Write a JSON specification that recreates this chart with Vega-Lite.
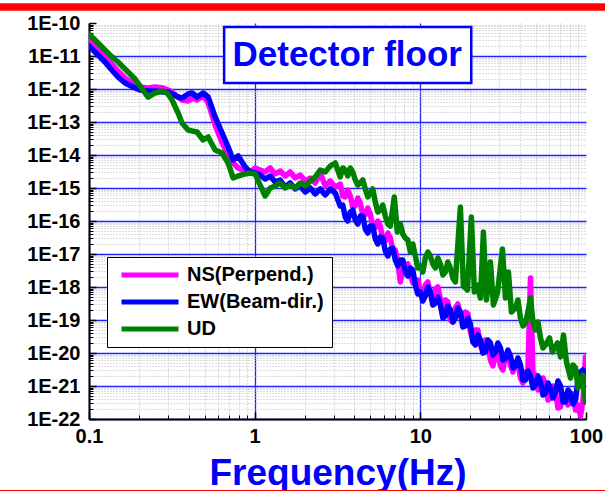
{
  "$schema": "https://vega.github.io/schema/vega-lite/v6.json",
  "width": 497,
  "height": 396,
  "autosize": "none",
  "padding": {"left": 89, "top": 23, "right": 19, "bottom": 72},
  "background": "white",
  "config": {"view": {"stroke": null}, "font": "Liberation Sans"},
  "datasets": {
    "spectra": [
      {"f":0.1,"s":"NS(Perpend.)","v":3.05e-11},{"f":0.1072,"s":"NS(Perpend.)","v":2.15e-11},{"f":0.1165,"s":"NS(Perpend.)","v":1.42e-11},{"f":0.1249,"s":"NS(Perpend.)","v":9.33e-12},{"f":0.1339,"s":"NS(Perpend.)","v":6.58e-12},{"f":0.1497,"s":"NS(Perpend.)","v":3.51e-12},{"f":0.165,"s":"NS(Perpend.)","v":2.15e-12},{"f":0.1897,"s":"NS(Perpend.)","v":1.32e-12},{"f":0.2033,"s":"NS(Perpend.)","v":1.15e-12},{"f":0.2273,"s":"NS(Perpend.)","v":1.07e-12},{"f":0.2505,"s":"NS(Perpend.)","v":1.15e-12},{"f":0.28,"s":"NS(Perpend.)","v":1.07e-12},{"f":0.3001,"s":"NS(Perpend.)","v":9.33e-13},{"f":0.3173,"s":"NS(Perpend.)","v":8.11e-13},{"f":0.345,"s":"NS(Perpend.)","v":5.72e-13},{"f":0.3647,"s":"NS(Perpend.)","v":4.64e-13},{"f":0.3964,"s":"NS(Perpend.)","v":4.33e-13},{"f":0.4193,"s":"NS(Perpend.)","v":5.34e-13},{"f":0.4494,"s":"NS(Perpend.)","v":4.64e-13},{"f":0.4885,"s":"NS(Perpend.)","v":6.14e-13},{"f":0.5237,"s":"NS(Perpend.)","v":3.77e-13},{"f":0.5772,"s":"NS(Perpend.)","v":8.11e-14},{"f":0.6364,"s":"NS(Perpend.)","v":2.31e-14},{"f":0.6917,"s":"NS(Perpend.)","v":1e-14},{"f":0.7416,"s":"NS(Perpend.)","v":5.72e-15},{"f":0.795,"s":"NS(Perpend.)","v":4.04e-15},{"f":0.8764,"s":"NS(Perpend.)","v":3.27e-15},{"f":0.9393,"s":"NS(Perpend.)","v":3.05e-15},{"f":1.007,"s":"NS(Perpend.)","v":4.04e-15},{"f":1.079,"s":"NS(Perpend.)","v":3.51e-15},{"f":1.157,"s":"NS(Perpend.)","v":3.05e-15},{"f":1.241,"s":"NS(Perpend.)","v":4.04e-15},{"f":1.33,"s":"NS(Perpend.)","v":2.66e-15},{"f":1.426,"s":"NS(Perpend.)","v":3.27e-15},{"f":1.529,"s":"NS(Perpend.)","v":2.31e-15},{"f":1.639,"s":"NS(Perpend.)","v":3.05e-15},{"f":1.757,"s":"NS(Perpend.)","v":2.01e-15},{"f":1.883,"s":"NS(Perpend.)","v":2.48e-15},{"f":2.019,"s":"NS(Perpend.)","v":1.63e-15},{"f":2.164,"s":"NS(Perpend.)","v":2.01e-15},{"f":2.321,"s":"NS(Perpend.)","v":1.42e-15},{"f":2.488,"s":"NS(Perpend.)","v":2.85e-15},{"f":2.667,"s":"NS(Perpend.)","v":1.15e-15},{"f":2.859,"s":"NS(Perpend.)","v":1.63e-15},{"f":3.065,"s":"NS(Perpend.)","v":1.07e-15},{"f":3.285,"s":"NS(Perpend.)","v":1.32e-15},{"f":3.522,"s":"NS(Perpend.)","v":5.34e-16},{"f":3.776,"s":"NS(Perpend.)","v":5.72e-16},{"f":4.049,"s":"NS(Perpend.)","v":2.85e-16},{"f":4.34,"s":"NS(Perpend.)","v":3.51e-16},{"f":4.653,"s":"NS(Perpend.)","v":1.52e-16},{"f":4.988,"s":"NS(Perpend.)","v":1.63e-16},{"f":5.347,"s":"NS(Perpend.)","v":6.14e-17},{"f":5.732,"s":"NS(Perpend.)","v":7.06e-17},{"f":6.145,"s":"NS(Perpend.)","v":2.48e-17},{"f":6.588,"s":"NS(Perpend.)","v":3.05e-17},{"f":7.063,"s":"NS(Perpend.)","v":1.32e-17},{"f":7.573,"s":"NS(Perpend.)","v":1.42e-18},{"f":8.118,"s":"NS(Perpend.)","v":4.33e-18},{"f":8.701,"s":"NS(Perpend.)","v":2.31e-18},{"f":9.329,"s":"NS(Perpend.)","v":1.63e-18},{"f":10,"s":"NS(Perpend.)","v":7.57e-19},{"f":10.72,"s":"NS(Perpend.)","v":1.15e-18},{"f":11.49,"s":"NS(Perpend.)","v":6.58e-19},{"f":12.32,"s":"NS(Perpend.)","v":8.7e-19},{"f":13.21,"s":"NS(Perpend.)","v":4.33e-19},{"f":14.16,"s":"NS(Perpend.)","v":4.04e-19},{"f":15.18,"s":"NS(Perpend.)","v":1e-19},{"f":16.27,"s":"NS(Perpend.)","v":2.31e-19},{"f":17.45,"s":"NS(Perpend.)","v":1.42e-19},{"f":18.71,"s":"NS(Perpend.)","v":1.75e-19},{"f":20.05,"s":"NS(Perpend.)","v":4.33e-20},{"f":21.5,"s":"NS(Perpend.)","v":4.98e-20},{"f":23.05,"s":"NS(Perpend.)","v":1.75e-20},{"f":24.71,"s":"NS(Perpend.)","v":2.48e-20},{"f":26.49,"s":"NS(Perpend.)","v":6.14e-21},{"f":28.4,"s":"NS(Perpend.)","v":8.7e-21},{"f":30.45,"s":"NS(Perpend.)","v":4.04e-21},{"f":32.64,"s":"NS(Perpend.)","v":8.11e-21},{"f":34.99,"s":"NS(Perpend.)","v":4.33e-21},{"f":37.51,"s":"NS(Perpend.)","v":5.34e-21},{"f":40.21,"s":"NS(Perpend.)","v":1.75e-21},{"f":43.11,"s":"NS(Perpend.)","v":2.66e-21},{"f":46.22,"s":"NS(Perpend.)","v":1.87e-18},{"f":49.55,"s":"NS(Perpend.)","v":2.15e-21},{"f":53.12,"s":"NS(Perpend.)","v":8.7e-22},{"f":56.94,"s":"NS(Perpend.)","v":1.07e-21},{"f":61.04,"s":"NS(Perpend.)","v":4.33e-22},{"f":65.44,"s":"NS(Perpend.)","v":6.58e-22},{"f":70.15,"s":"NS(Perpend.)","v":2.31e-22},{"f":75.21,"s":"NS(Perpend.)","v":4.33e-22},{"f":80.63,"s":"NS(Perpend.)","v":6.14e-22},{"f":86.44,"s":"NS(Perpend.)","v":1.87e-22},{"f":92.67,"s":"NS(Perpend.)","v":1.23e-22},{"f":99.3,"s":"NS(Perpend.)","v":7.57e-21},
      {"f":3.402,"s":"NS(Perpend.)","v":5.72e-16},{"f":3.647,"s":"NS(Perpend.)","v":8.7e-16},{"f":3.91,"s":"NS(Perpend.)","v":2.66e-16},{"f":4.193,"s":"NS(Perpend.)","v":4.98e-16},{"f":4.494,"s":"NS(Perpend.)","v":1.52e-16},{"f":4.818,"s":"NS(Perpend.)","v":2.48e-16},{"f":5.164,"s":"NS(Perpend.)","v":6.58e-17},{"f":5.537,"s":"NS(Perpend.)","v":1e-16},{"f":5.935,"s":"NS(Perpend.)","v":2.66e-17},{"f":6.364,"s":"NS(Perpend.)","v":4.33e-17},{"f":6.822,"s":"NS(Perpend.)","v":1.32e-17},{"f":7.311,"s":"NS(Perpend.)","v":5.72e-18},{"f":7.84,"s":"NS(Perpend.)","v":3.27e-18},{"f":8.405,"s":"NS(Perpend.)","v":4.98e-18},{"f":9.01,"s":"NS(Perpend.)","v":1.32e-18},{"f":9.658,"s":"NS(Perpend.)","v":1.63e-18},
      {"f":10.35,"s":"NS(Perpend.)","v":5.34e-19},{"f":11.1,"s":"NS(Perpend.)","v":1.42e-18},{"f":11.9,"s":"NS(Perpend.)","v":4.33e-19},{"f":12.76,"s":"NS(Perpend.)","v":1e-18},{"f":13.68,"s":"NS(Perpend.)","v":2.31e-19},{"f":14.66,"s":"NS(Perpend.)","v":3.51e-19},{"f":15.72,"s":"NS(Perpend.)","v":8.7e-20},{"f":16.85,"s":"NS(Perpend.)","v":3.05e-19},{"f":18.06,"s":"NS(Perpend.)","v":8.7e-20},{"f":19.37,"s":"NS(Perpend.)","v":1.52e-19},{"f":20.76,"s":"NS(Perpend.)","v":2.48e-20},{"f":22.26,"s":"NS(Perpend.)","v":4.98e-20},{"f":23.86,"s":"NS(Perpend.)","v":1.07e-20},{"f":25.58,"s":"NS(Perpend.)","v":2.01e-20},{"f":27.42,"s":"NS(Perpend.)","v":4.04e-21},{"f":29.4,"s":"NS(Perpend.)","v":1e-20},{"f":31.52,"s":"NS(Perpend.)","v":3.05e-21},{"f":33.79,"s":"NS(Perpend.)","v":1.07e-20},{"f":36.22,"s":"NS(Perpend.)","v":2.66e-21},{"f":38.83,"s":"NS(Perpend.)","v":5.34e-21},{"f":41.63,"s":"NS(Perpend.)","v":1.23e-21},{"f":44.63,"s":"NS(Perpend.)","v":3.05e-21},{"f":47.85,"s":"NS(Perpend.)","v":2.48e-21},{"f":51.29,"s":"NS(Perpend.)","v":7.57e-22},{"f":54.99,"s":"NS(Perpend.)","v":1.75e-21},{"f":58.95,"s":"NS(Perpend.)","v":3.77e-22},{"f":63.19,"s":"NS(Perpend.)","v":1e-21},{"f":67.75,"s":"NS(Perpend.)","v":2.15e-22},{"f":72.62,"s":"NS(Perpend.)","v":5.72e-22},{"f":77.86,"s":"NS(Perpend.)","v":2.66e-22},{"f":83.49,"s":"NS(Perpend.)","v":5.72e-22},{"f":89.49,"s":"NS(Perpend.)","v":2.66e-22},{"f":95.92,"s":"NS(Perpend.)","v":3.77e-22},
      {"f":0.1,"s":"EW(Beam-dir.)","v":2.01e-11},{"f":0.1072,"s":"EW(Beam-dir.)","v":1.42e-11},{"f":0.1165,"s":"EW(Beam-dir.)","v":9.33e-12},{"f":0.1249,"s":"EW(Beam-dir.)","v":6.58e-12},{"f":0.1339,"s":"EW(Beam-dir.)","v":4.33e-12},{"f":0.1497,"s":"EW(Beam-dir.)","v":2.31e-12},{"f":0.165,"s":"EW(Beam-dir.)","v":1.52e-12},{"f":0.1897,"s":"EW(Beam-dir.)","v":1.07e-12},{"f":0.2033,"s":"EW(Beam-dir.)","v":9.33e-13},{"f":0.2273,"s":"EW(Beam-dir.)","v":8.7e-13},{"f":0.2505,"s":"EW(Beam-dir.)","v":8.7e-13},{"f":0.28,"s":"EW(Beam-dir.)","v":8.11e-13},{"f":0.3001,"s":"EW(Beam-dir.)","v":8.11e-13},{"f":0.3173,"s":"EW(Beam-dir.)","v":7.06e-13},{"f":0.345,"s":"EW(Beam-dir.)","v":5.72e-13},{"f":0.3647,"s":"EW(Beam-dir.)","v":5.34e-13},{"f":0.3964,"s":"EW(Beam-dir.)","v":7.06e-13},{"f":0.4193,"s":"EW(Beam-dir.)","v":7.57e-13},{"f":0.4494,"s":"EW(Beam-dir.)","v":5.72e-13},{"f":0.4885,"s":"EW(Beam-dir.)","v":7.57e-13},{"f":0.5237,"s":"EW(Beam-dir.)","v":5.72e-13},{"f":0.5772,"s":"EW(Beam-dir.)","v":1.42e-13},{"f":0.6364,"s":"EW(Beam-dir.)","v":4.64e-14},{"f":0.6917,"s":"EW(Beam-dir.)","v":1.75e-14},{"f":0.7416,"s":"EW(Beam-dir.)","v":7.06e-15},{"f":0.795,"s":"EW(Beam-dir.)","v":9.33e-15},{"f":0.8764,"s":"EW(Beam-dir.)","v":4.33e-15},{"f":0.9393,"s":"EW(Beam-dir.)","v":3.05e-15},{"f":1.007,"s":"EW(Beam-dir.)","v":2.85e-15},{"f":1.079,"s":"EW(Beam-dir.)","v":2.48e-15},{"f":1.157,"s":"EW(Beam-dir.)","v":1.87e-15},{"f":1.241,"s":"EW(Beam-dir.)","v":2.31e-15},{"f":1.33,"s":"EW(Beam-dir.)","v":1.52e-15},{"f":1.426,"s":"EW(Beam-dir.)","v":1.75e-15},{"f":1.529,"s":"EW(Beam-dir.)","v":1.07e-15},{"f":1.639,"s":"EW(Beam-dir.)","v":1.42e-15},{"f":1.757,"s":"EW(Beam-dir.)","v":9.33e-16},{"f":1.883,"s":"EW(Beam-dir.)","v":1.15e-15},{"f":2.019,"s":"EW(Beam-dir.)","v":7.57e-16},{"f":2.164,"s":"EW(Beam-dir.)","v":1e-15},{"f":2.321,"s":"EW(Beam-dir.)","v":6.58e-16},{"f":2.488,"s":"EW(Beam-dir.)","v":9.33e-16},{"f":2.667,"s":"EW(Beam-dir.)","v":6.14e-16},{"f":2.859,"s":"EW(Beam-dir.)","v":9.33e-16},{"f":3.065,"s":"EW(Beam-dir.)","v":7.06e-16},{"f":3.285,"s":"EW(Beam-dir.)","v":2.85e-16},{"f":3.522,"s":"EW(Beam-dir.)","v":1.32e-16},{"f":3.776,"s":"EW(Beam-dir.)","v":1.87e-16},{"f":4.049,"s":"EW(Beam-dir.)","v":1.07e-16},{"f":4.34,"s":"EW(Beam-dir.)","v":1.42e-16},{"f":4.653,"s":"EW(Beam-dir.)","v":5.72e-17},{"f":4.988,"s":"EW(Beam-dir.)","v":7.06e-17},{"f":5.347,"s":"EW(Beam-dir.)","v":2.85e-17},{"f":5.732,"s":"EW(Beam-dir.)","v":3.27e-17},{"f":6.145,"s":"EW(Beam-dir.)","v":1.23e-17},{"f":6.588,"s":"EW(Beam-dir.)","v":1.42e-17},{"f":7.063,"s":"EW(Beam-dir.)","v":6.58e-18},{"f":7.573,"s":"EW(Beam-dir.)","v":6.58e-18},{"f":8.118,"s":"EW(Beam-dir.)","v":2.85e-18},{"f":8.701,"s":"EW(Beam-dir.)","v":3.77e-18},{"f":9.329,"s":"EW(Beam-dir.)","v":1.15e-18},{"f":10,"s":"EW(Beam-dir.)","v":7.06e-19},{"f":10.72,"s":"EW(Beam-dir.)","v":5.34e-19},{"f":11.49,"s":"EW(Beam-dir.)","v":7.06e-19},{"f":12.32,"s":"EW(Beam-dir.)","v":3.27e-19},{"f":13.21,"s":"EW(Beam-dir.)","v":2.85e-19},{"f":14.16,"s":"EW(Beam-dir.)","v":1.32e-19},{"f":15.18,"s":"EW(Beam-dir.)","v":2.01e-19},{"f":16.27,"s":"EW(Beam-dir.)","v":1.15e-19},{"f":17.45,"s":"EW(Beam-dir.)","v":1.75e-19},{"f":18.71,"s":"EW(Beam-dir.)","v":6.58e-20},{"f":20.05,"s":"EW(Beam-dir.)","v":7.57e-20},{"f":21.5,"s":"EW(Beam-dir.)","v":1.75e-20},{"f":23.05,"s":"EW(Beam-dir.)","v":2.48e-20},{"f":24.71,"s":"EW(Beam-dir.)","v":1.07e-20},{"f":26.49,"s":"EW(Beam-dir.)","v":2.01e-20},{"f":28.4,"s":"EW(Beam-dir.)","v":1.07e-20},{"f":30.45,"s":"EW(Beam-dir.)","v":1.42e-20},{"f":32.64,"s":"EW(Beam-dir.)","v":7.06e-21},{"f":34.99,"s":"EW(Beam-dir.)","v":8.11e-21},{"f":37.51,"s":"EW(Beam-dir.)","v":4.04e-21},{"f":40.21,"s":"EW(Beam-dir.)","v":4.33e-21},{"f":43.11,"s":"EW(Beam-dir.)","v":1.52e-21},{"f":46.22,"s":"EW(Beam-dir.)","v":2.01e-21},{"f":49.55,"s":"EW(Beam-dir.)","v":1.07e-21},{"f":53.12,"s":"EW(Beam-dir.)","v":1.32e-21},{"f":56.94,"s":"EW(Beam-dir.)","v":6.14e-22},{"f":61.04,"s":"EW(Beam-dir.)","v":8.7e-22},{"f":65.44,"s":"EW(Beam-dir.)","v":6.58e-22},{"f":70.15,"s":"EW(Beam-dir.)","v":1e-21},{"f":75.21,"s":"EW(Beam-dir.)","v":3.27e-22},{"f":80.63,"s":"EW(Beam-dir.)","v":5.72e-22},{"f":86.44,"s":"EW(Beam-dir.)","v":3.77e-22},{"f":92.67,"s":"EW(Beam-dir.)","v":2.66e-21},{"f":99.3,"s":"EW(Beam-dir.)","v":1.32e-21},
      {"f":3.402,"s":"EW(Beam-dir.)","v":3.05e-16},{"f":3.647,"s":"EW(Beam-dir.)","v":1e-16},{"f":3.91,"s":"EW(Beam-dir.)","v":2.15e-16},{"f":4.193,"s":"EW(Beam-dir.)","v":8.11e-17},{"f":4.494,"s":"EW(Beam-dir.)","v":1.42e-16},{"f":4.818,"s":"EW(Beam-dir.)","v":4.33e-17},{"f":5.164,"s":"EW(Beam-dir.)","v":7.06e-17},{"f":5.537,"s":"EW(Beam-dir.)","v":2.01e-17},{"f":5.935,"s":"EW(Beam-dir.)","v":3.05e-17},{"f":6.364,"s":"EW(Beam-dir.)","v":8.7e-18},{"f":6.822,"s":"EW(Beam-dir.)","v":1.52e-17},{"f":7.311,"s":"EW(Beam-dir.)","v":4.33e-18},{"f":7.84,"s":"EW(Beam-dir.)","v":6.58e-18},{"f":8.405,"s":"EW(Beam-dir.)","v":2.15e-18},{"f":9.01,"s":"EW(Beam-dir.)","v":3.27e-18},{"f":9.658,"s":"EW(Beam-dir.)","v":6.14e-19},
      {"f":10.35,"s":"EW(Beam-dir.)","v":3.77e-19},{"f":11.1,"s":"EW(Beam-dir.)","v":1e-18},{"f":11.9,"s":"EW(Beam-dir.)","v":2.85e-19},{"f":12.76,"s":"EW(Beam-dir.)","v":4.98e-19},{"f":13.68,"s":"EW(Beam-dir.)","v":1.15e-19},{"f":14.66,"s":"EW(Beam-dir.)","v":2.66e-19},{"f":15.72,"s":"EW(Beam-dir.)","v":8.7e-20},{"f":16.85,"s":"EW(Beam-dir.)","v":2.31e-19},{"f":18.06,"s":"EW(Beam-dir.)","v":6.14e-20},{"f":19.37,"s":"EW(Beam-dir.)","v":1.15e-19},{"f":20.76,"s":"EW(Beam-dir.)","v":2.15e-20},{"f":22.26,"s":"EW(Beam-dir.)","v":3.51e-20},{"f":23.86,"s":"EW(Beam-dir.)","v":1e-20},{"f":25.58,"s":"EW(Beam-dir.)","v":2.48e-20},{"f":27.42,"s":"EW(Beam-dir.)","v":8.7e-21},{"f":29.4,"s":"EW(Beam-dir.)","v":2.01e-20},{"f":31.52,"s":"EW(Beam-dir.)","v":6.14e-21},{"f":33.79,"s":"EW(Beam-dir.)","v":1.23e-20},{"f":36.22,"s":"EW(Beam-dir.)","v":3.51e-21},{"f":38.83,"s":"EW(Beam-dir.)","v":7.06e-21},{"f":41.63,"s":"EW(Beam-dir.)","v":1.52e-21},{"f":44.63,"s":"EW(Beam-dir.)","v":2.85e-21},{"f":47.85,"s":"EW(Beam-dir.)","v":8.7e-22},{"f":51.29,"s":"EW(Beam-dir.)","v":2.01e-21},{"f":54.99,"s":"EW(Beam-dir.)","v":5.34e-22},{"f":58.95,"s":"EW(Beam-dir.)","v":1.23e-21},{"f":63.19,"s":"EW(Beam-dir.)","v":4.33e-22},{"f":67.75,"s":"EW(Beam-dir.)","v":1.42e-21},{"f":72.62,"s":"EW(Beam-dir.)","v":3.27e-22},{"f":77.86,"s":"EW(Beam-dir.)","v":7.57e-22},{"f":83.49,"s":"EW(Beam-dir.)","v":2.85e-22},{"f":89.49,"s":"EW(Beam-dir.)","v":1.52e-21},{"f":95.92,"s":"EW(Beam-dir.)","v":3.05e-21},
      {"f":0.1,"s":"UD","v":4.64e-11},{"f":0.1072,"s":"UD","v":3.27e-11},{"f":0.1165,"s":"UD","v":2.15e-11},{"f":0.1249,"s":"UD","v":1.52e-11},{"f":0.1339,"s":"UD","v":1.07e-11},{"f":0.1497,"s":"UD","v":6.58e-12},{"f":0.165,"s":"UD","v":4.04e-12},{"f":0.1897,"s":"UD","v":2.01e-12},{"f":0.2033,"s":"UD","v":1.23e-12},{"f":0.2273,"s":"UD","v":5.72e-13},{"f":0.2505,"s":"UD","v":7.57e-13},{"f":0.28,"s":"UD","v":8.7e-13},{"f":0.3001,"s":"UD","v":7.06e-13},{"f":0.3173,"s":"UD","v":4.64e-13},{"f":0.345,"s":"UD","v":1.87e-13},{"f":0.3647,"s":"UD","v":9.33e-14},{"f":0.3964,"s":"UD","v":5.72e-14},{"f":0.4193,"s":"UD","v":5.34e-14},{"f":0.4494,"s":"UD","v":4.98e-14},{"f":0.4885,"s":"UD","v":2.85e-14},{"f":0.5237,"s":"UD","v":3.51e-14},{"f":0.5772,"s":"UD","v":1.42e-14},{"f":0.6364,"s":"UD","v":1.15e-14},{"f":0.6917,"s":"UD","v":5.72e-15},{"f":0.7416,"s":"UD","v":2.01e-15},{"f":0.795,"s":"UD","v":2.31e-15},{"f":0.8764,"s":"UD","v":2.66e-15},{"f":0.9393,"s":"UD","v":2.85e-15},{"f":1.007,"s":"UD","v":2.66e-15},{"f":1.079,"s":"UD","v":1.23e-15},{"f":1.157,"s":"UD","v":5.72e-16},{"f":1.241,"s":"UD","v":1e-15},{"f":1.33,"s":"UD","v":1.15e-15},{"f":1.426,"s":"UD","v":1.42e-15},{"f":1.529,"s":"UD","v":1e-15},{"f":1.639,"s":"UD","v":1.23e-15},{"f":1.757,"s":"UD","v":1e-15},{"f":1.883,"s":"UD","v":1.42e-15},{"f":2.019,"s":"UD","v":1.15e-15},{"f":2.164,"s":"UD","v":1.63e-15},{"f":2.321,"s":"UD","v":2.15e-15},{"f":2.488,"s":"UD","v":3.51e-15},{"f":2.667,"s":"UD","v":3.05e-15},{"f":2.859,"s":"UD","v":4.64e-15},{"f":3.065,"s":"UD","v":5.72e-15},{"f":3.285,"s":"UD","v":2.15e-15},{"f":3.522,"s":"UD","v":3.51e-15},{"f":3.776,"s":"UD","v":4.04e-15},{"f":4.049,"s":"UD","v":1.75e-15},{"f":4.34,"s":"UD","v":1.42e-15},{"f":4.653,"s":"UD","v":9.33e-16},{"f":4.988,"s":"UD","v":7.06e-16},{"f":5.347,"s":"UD","v":3.77e-16},{"f":5.732,"s":"UD","v":2.15e-16},{"f":6.145,"s":"UD","v":1.42e-16},{"f":6.588,"s":"UD","v":7.06e-17},{"f":6.966,"s":"UD","v":5.34e-16},{"f":7.261,"s":"UD","v":4.64e-17},{"f":7.573,"s":"UD","v":8.11e-17},{"f":8.118,"s":"UD","v":3.05e-17},{"f":8.701,"s":"UD","v":1.15e-17},{"f":9.329,"s":"UD","v":8.7e-18},{"f":10,"s":"UD","v":4.33e-18},{"f":10.72,"s":"UD","v":7.57e-18},{"f":11.49,"s":"UD","v":8.7e-18},{"f":12.32,"s":"UD","v":3.77e-18},{"f":13.21,"s":"UD","v":4.98e-18},{"f":14.16,"s":"UD","v":2.85e-18},{"f":15.18,"s":"UD","v":3.77e-18},{"f":16.27,"s":"UD","v":1.42e-18},{"f":17.45,"s":"UD","v":2.66e-16},{"f":18.19,"s":"UD","v":1.07e-18},{"f":19.23,"s":"UD","v":8.11e-19},{"f":20.33,"s":"UD","v":1.32e-16},{"f":21.2,"s":"UD","v":7.06e-19},{"f":22.1,"s":"UD","v":1.15e-18},{"f":23.05,"s":"UD","v":4.64e-19},{"f":24.03,"s":"UD","v":4.64e-17},{"f":25.05,"s":"UD","v":4.04e-19},{"f":26.49,"s":"UD","v":5.72e-18},{"f":27.62,"s":"UD","v":2.85e-19},{"f":29.2,"s":"UD","v":6.58e-19},{"f":31.3,"s":"UD","v":1.42e-17},{"f":32.64,"s":"UD","v":4.64e-19},{"f":34.02,"s":"UD","v":2.85e-18},{"f":35.47,"s":"UD","v":1.75e-19},{"f":37.51,"s":"UD","v":2.31e-19},{"f":40.21,"s":"UD","v":1.15e-19},{"f":43.11,"s":"UD","v":8.11e-20},{"f":46.22,"s":"UD","v":4.64e-19},{"f":49.55,"s":"UD","v":4.98e-20},{"f":53.12,"s":"UD","v":2.85e-20},{"f":56.94,"s":"UD","v":1.75e-20},{"f":60.19,"s":"UD","v":2.85e-20},{"f":62.75,"s":"UD","v":1.07e-20},{"f":67.27,"s":"UD","v":2.01e-20},{"f":70.15,"s":"UD","v":7.57e-21},{"f":73.11,"s":"UD","v":3.51e-20},{"f":76.26,"s":"UD","v":5.34e-21},{"f":80.63,"s":"UD","v":1.75e-21},{"f":86.44,"s":"UD","v":3.51e-21},{"f":92.67,"s":"UD","v":1.23e-21},{"f":99.3,"s":"UD","v":3.27e-22},
      {"f":3.402,"s":"UD","v":4.04e-15},{"f":3.647,"s":"UD","v":2.31e-15},{"f":3.91,"s":"UD","v":3.05e-15},{"f":4.193,"s":"UD","v":1.23e-15},{"f":4.494,"s":"UD","v":1.75e-15},{"f":4.818,"s":"UD","v":5.34e-16},{"f":5.164,"s":"UD","v":9.33e-16},{"f":5.537,"s":"UD","v":1.87e-16},{"f":5.935,"s":"UD","v":3.05e-16},{"f":6.364,"s":"UD","v":8.11e-17},{"f":7.84,"s":"UD","v":4.04e-17},{"f":8.405,"s":"UD","v":2.66e-17},{"f":9.01,"s":"UD","v":2.01e-17},{"f":9.658,"s":"UD","v":3.77e-18},
      {"f":10.35,"s":"UD","v":2.85e-18},{"f":11.1,"s":"UD","v":1.15e-17},{"f":11.9,"s":"UD","v":4.98e-18},{"f":12.76,"s":"UD","v":7.57e-18},{"f":13.68,"s":"UD","v":2.31e-18},{"f":14.66,"s":"UD","v":5.72e-18},{"f":15.72,"s":"UD","v":1.87e-18},{"f":38.83,"s":"UD","v":4.04e-19},{"f":41.63,"s":"UD","v":6.58e-20},{"f":44.63,"s":"UD","v":1.75e-19},{"f":47.85,"s":"UD","v":8.7e-20},{"f":51.29,"s":"UD","v":8.7e-20},{"f":54.99,"s":"UD","v":1.42e-20},{"f":83.49,"s":"UD","v":4.33e-21},{"f":89.49,"s":"UD","v":8.7e-22},{"f":95.92,"s":"UD","v":2.15e-21}
    ],
    "titlebox": [{"f": 0.654, "f2": 20.3, "v": 7.56e-11, "v2": 1.52e-12, "fc": 3.62, "vc": 1.07e-11, "label": "Detector floor"}]
  },
  "layer": [
    {
      "data": {"name": "titlebox"},
      "mark": {"type": "point", "opacity": 0},
      "encoding": {
        "x": {"field": "fc", "type": "quantitative", "scale": {"type": "log", "domain": [0.1, 100]},
          "axis": {"orient": "bottom", "values": [0.2,0.3,0.4,0.5,0.6,0.7,0.8,0.9,2,3,4,5,6,7,8,9,20,30,40,50,60,70,80,90], "labels": false, "domain": false, "ticks": true, "tickSize": -4, "tickColor": "black", "tickWidth": 1, "grid": true, "gridColor": "#bbbbbb", "gridDash": [1, 2], "gridWidth": 1, "title": null, "minExtent": 0, "maxExtent": 0}},
        "y": {"field": "vc", "type": "quantitative", "scale": {"type": "log", "domain": [1e-22, 1e-10]},
          "axis": {"orient": "left", "values": [2e-22,3e-22,4e-22,5e-22,6e-22,7e-22,8e-22,9e-22,2e-21,3e-21,4e-21,5e-21,6e-21,7e-21,8e-21,9e-21,2e-20,3e-20,4e-20,5e-20,6e-20,7e-20,8e-20,9e-20,2e-19,3e-19,4e-19,5e-19,6e-19,7e-19,8e-19,9e-19,2e-18,3e-18,4e-18,5e-18,6e-18,7e-18,8e-18,9e-18,2e-17,3e-17,4e-17,5e-17,6e-17,7e-17,8e-17,9e-17,2e-16,3e-16,4e-16,5e-16,6e-16,7e-16,8e-16,9e-16,2e-15,3e-15,4e-15,5e-15,6e-15,7e-15,8e-15,9e-15,2e-14,3e-14,4e-14,5e-14,6e-14,7e-14,8e-14,9e-14,2e-13,3e-13,4e-13,5e-13,6e-13,7e-13,8e-13,9e-13,2e-12,3e-12,4e-12,5e-12,6e-12,7e-12,8e-12,9e-12,2e-11,3e-11,4e-11,5e-11,6e-11,7e-11,8e-11,9e-11], "labels": false, "domain": false, "ticks": true, "tickSize": -4, "tickColor": "black", "tickWidth": 1, "grid": true, "gridColor": "#bbbbbb", "gridDash": [1, 2], "gridWidth": 1, "title": null, "minExtent": 0, "maxExtent": 0}}
      }
    },
    {
      "data": {"name": "spectra"},
      "mark": {"type": "line", "strokeWidth": 5.5, "strokeJoin": "round", "strokeCap": "round", "clip": true},
      "encoding": {
        "x": {"field": "f", "type": "quantitative", "scale": {"type": "log", "domain": [0.1, 100]},
          "axis": {"orient": "bottom", "values": [0.1, 1, 10, 100], "format": "~g", "labelFont": "Liberation Sans", "labelFontSize": 20, "labelFontWeight": "bold", "labelColor": "black", "labelPadding": 14, "labelFlush": false, "domain": true, "domainColor": "black", "domainWidth": 2, "ticks": true, "tickSize": -7, "tickColor": "black", "tickWidth": 1.5, "grid": true, "gridColor": "#2222ff", "gridWidth": 1.3, "gridOpacity": {"condition": {"test": "datum.value >= 100", "value": 0}, "value": 1}, "title": "Frequency(Hz)", "titleFont": "Liberation Sans", "titleFontSize": 37, "titleFontWeight": "bold", "titleColor": "#0000ff", "titlePadding": 9}},
        "y": {"field": "v", "type": "quantitative", "scale": {"type": "log", "domain": [1e-22, 1e-10]},
          "axis": {"orient": "left", "values": [1e-22,1e-21,1e-20,1e-19,1e-18,1e-17,1e-16,1e-15,1e-14,1e-13,1e-12,1e-11,1e-10], "labelExpr": "'1E' + round(log(datum.value) / LN10)", "labelFont": "Liberation Sans", "labelFontSize": 20, "labelFontWeight": "bold", "labelColor": "black", "labelPadding": 16, "domain": true, "domainColor": "black", "domainWidth": 2, "ticks": true, "tickSize": -7, "tickColor": "black", "tickWidth": 1.5, "grid": true, "gridColor": "#2222ff", "gridWidth": 1.3, "gridOpacity": {"condition": {"test": "datum.value > 5e-11", "value": 0}, "value": 1}, "title": null}},
        "color": {"field": "s", "type": "nominal", "sort": null,
          "scale": {"domain": ["NS(Perpend.)", "EW(Beam-dir.)", "UD"], "range": ["#ff00ff", "#0000ff", "#008000"]},
          "legend": {"title": null, "orient": "none", "legendX": 18, "legendY": 234, "strokeColor": "black", "fillColor": "white", "padding": 8, "symbolType": "M-4,0H4", "symbolSize": 203, "symbolStrokeWidth": 5, "symbolOffset": 25, "labelFont": "Liberation Sans", "labelFontSize": 20, "labelFontWeight": "bold", "labelColor": "black", "rowPadding": 7, "labelOffset": 27}}
      }
    },
    {
      "data": {"name": "titlebox"},
      "mark": {"type": "rect", "fill": "white", "stroke": "#0000ff", "strokeWidth": 2.5},
      "encoding": {
        "x": {"field": "f", "type": "quantitative", "scale": {"type": "log", "domain": [0.1, 100]}, "axis": null},
        "x2": {"field": "f2"},
        "y": {"field": "v", "type": "quantitative", "scale": {"type": "log", "domain": [1e-22, 1e-10]}, "axis": null},
        "y2": {"field": "v2"}
      }
    },
    {
      "data": {"name": "titlebox"},
      "mark": {"type": "text", "font": "Liberation Sans", "fontSize": 35, "fontWeight": "bold", "color": "#0000ff", "align": "center", "baseline": "middle"},
      "encoding": {
        "x": {"field": "fc", "type": "quantitative", "scale": {"type": "log", "domain": [0.1, 100]}, "axis": null},
        "y": {"field": "vc", "type": "quantitative", "scale": {"type": "log", "domain": [1e-22, 1e-10]}, "axis": null},
        "text": {"field": "label"}
      }
    },
    {
      "data": {"values": [{"f": 0.0289, "f2": 131, "v": 3.05e-10}]},
      "mark": {"type": "rule", "color": "#ff0000", "strokeWidth": 7.5, "clip": false},
      "encoding": {
        "x": {"field": "f", "type": "quantitative", "scale": {"type": "log", "domain": [0.1, 100]}, "axis": null},
        "x2": {"field": "f2"},
        "y": {"field": "v", "type": "quantitative", "scale": {"type": "log", "domain": [1e-22, 1e-10]}, "axis": null}
      }
    },
    {
      "data": {"values": [{"f": 0.0289, "f2": 131, "v": 6.4e-25}]},
      "mark": {"type": "rule", "color": "#ff0000", "strokeWidth": 3, "clip": false},
      "encoding": {
        "x": {"field": "f", "type": "quantitative", "scale": {"type": "log", "domain": [0.1, 100]}, "axis": null},
        "x2": {"field": "f2"},
        "y": {"field": "v", "type": "quantitative", "scale": {"type": "log", "domain": [1e-22, 1e-10]}, "axis": null}
      }
    }
  ],
  "resolve": {"axis": {"x": "independent", "y": "independent"}}
}
